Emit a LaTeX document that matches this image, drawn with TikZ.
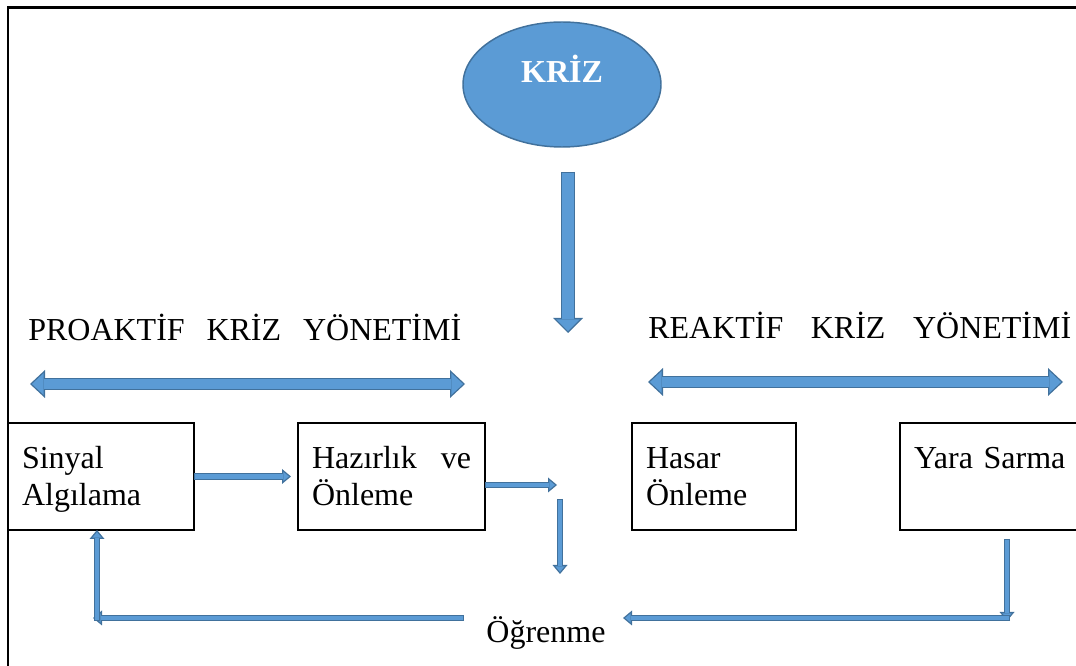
\documentclass[tikz,border=0pt]{standalone}
\usepackage{fontspec}
\setmainfont{Liberation Serif}
\usetikzlibrary{arrows.meta,shapes.geometric,calc}
\definecolor{dolgu}{HTML}{5B9BD5}
\definecolor{kenar}{HTML}{41719C}
\tikzset{
  kutu/.style={draw,line width=1.5pt,anchor=north west,outer sep=0pt,inner xsep=10.5pt,inner ysep=0pt,
    align=left,text height=34.5pt,text depth=45.75pt},
  ince/.style={draw=kenar,line width=5.2pt,-{Triangle[length=6.75pt,width=11.25pt,line width=0pt]},
    postaction={draw=dolgu,line width=3.2pt,shorten <=1pt,shorten >=1.56pt,
      -{Triangle[length=4.19pt,width=6.98pt,line width=0pt]}}},
  kalin/.style={draw=kenar,line width=10.5pt,-{Triangle[length=11.25pt,width=22.5pt,line width=0pt]},
    postaction={draw=dolgu,line width=8.5pt,shorten <=1pt,shorten >=1.41pt,
      -{Triangle[length=8.84pt,width=17.7pt,line width=0pt]}}},
  cift/.style={draw=kenar,line width=9pt,
    {Triangle[length=11.25pt,width=21pt,line width=0pt]}-{Triangle[length=11.25pt,width=21pt,line width=0pt]},
    postaction={draw=dolgu,line width=7pt,shorten <=1.47pt,shorten >=1.47pt,
      {Triangle[length=8.78pt,width=16.4pt,line width=0pt]}-{Triangle[length=8.78pt,width=16.4pt,line width=0pt]}}}
}

\begin{document}
\begin{tikzpicture}[x=.75pt,y=-.75pt,font=\fontsize{24}{27.75}\selectfont]
    \useasboundingbox (0,0) rectangle (1076,666);
    \clip (0,0) rectangle (1076,666);
    \draw[line width=1.6pt] (8,666) -- (8,7.5) -- (1076,7.5);
    \node[ellipse,fill=dolgu,draw=kenar,line width=1.1pt,minimum width=148.5pt,minimum height=93.75pt,inner sep=0pt,
      text=white,font=\fontsize{24}{28}\selectfont\bfseries,text height=15.75pt,text depth=18.75pt] (kriz) at (562,84.5) {KRİZ};
    \node[anchor=base west,inner sep=0pt] (proaktif) at (28,341) {\hbox to 324.75pt{PROAKTİF\hfill KRİZ\hfill YÖNETİMİ}};
    \node[anchor=base west,inner sep=0pt] (reaktif) at (648,339) {\hbox to 317.25pt{REAKTİF\hfill KRİZ\hfill YÖNETİMİ}};
    \node[kutu,text width=118.5pt] (sinyal) at (8,423) {Sinyal\\Algılama};
    \node[kutu,text width=119.25pt] (hazirlik) at (298,423) {Hazırlık\hfill ve\\Önleme};
    \node[kutu,text width=102pt] (hasar) at (632,423) {Hasar\\Önleme};
    \node[kutu,text width=139.5pt] (yara) at (900,423) {Yara Sarma};
    \node[anchor=base,inner sep=0pt] (ogrenme) at (546,643) {Öğrenme};
    % oklar
    \coordinate (okust) at (568,172);
    \coordinate (okalt) at (568,333);
    \draw[kalin] (okust) -- (okalt);
    \coordinate (psol) at (30,384);
    \coordinate (psag) at (465,384);
    \draw[cift] (psol) -- (psag);
    \coordinate (rsol) at (648,382);
    \coordinate (rsag) at (1063,382);
    \draw[cift] (rsol) -- (rsag);
    \draw[ince] (sinyal.east) -- ($(hazirlik.west)+(-7,0)$);
    \coordinate (hzuc) at (557,485);
    \draw[ince] (hazirlik.east |- hzuc) -- (hzuc);
    \coordinate (ostu) at (560,499);
    \coordinate (ogrust) at (560,574);
    \draw[ince] (ostu) -- (ogrust);
    \coordinate (solbas) at (464,618);
    \coordinate (solkose) at (93,618);
    \draw[ince] (solbas) -- (solkose);
    \coordinate (solalt) at (97,621);
    \draw[ince] (solalt) -- (solalt |- sinyal.south);
    \coordinate (sagust) at (1007,539);
    \coordinate (sagkose) at (1007,621);
    \draw[ince] (sagust) -- (sagkose);
    \coordinate (sagbas) at (1010,618);
    \coordinate (saguc) at (623,618);
    \draw[ince] (sagbas) -- (saguc);
\end{tikzpicture}
\end{document}
